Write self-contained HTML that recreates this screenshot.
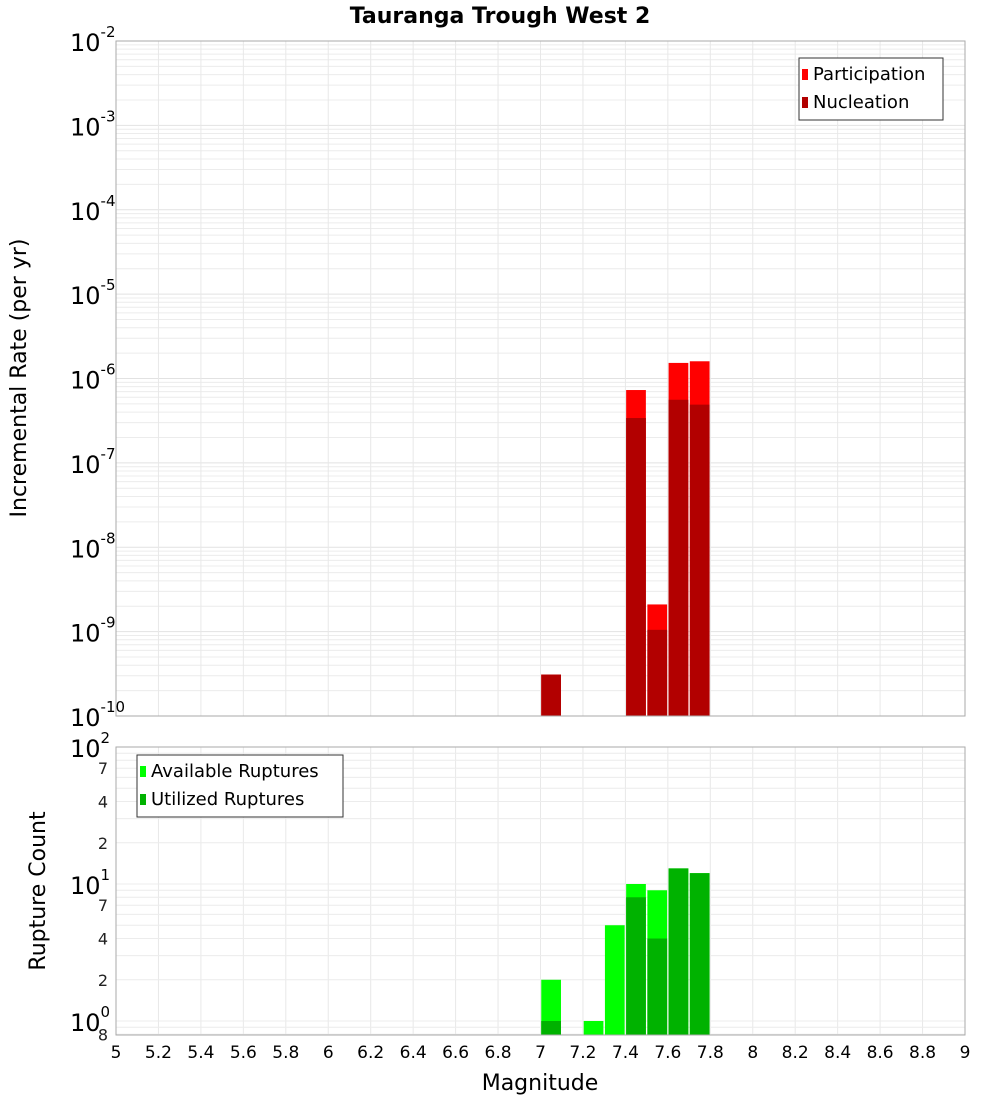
<!DOCTYPE html>
<html><head><meta charset="utf-8"><style>
body{margin:0;background:#fff;}
svg text{font-family:"DejaVu Sans","Liberation Sans",sans-serif;}
</style></head><body>
<svg id="chart" width="1000" height="1100" xmlns="http://www.w3.org/2000/svg">
<text x="500" y="23" text-anchor="middle" font-size="22" font-weight="bold">Tauranga Trough West 2</text>
<g id="topplot"></g>
<g id="botplot"></g>
<text transform="translate(26,378) rotate(-90)" text-anchor="middle" font-size="22">Incremental Rate (per yr)</text>
<text transform="translate(45,891) rotate(-90)" text-anchor="middle" font-size="22">Rupture Count</text>
<text x="540" y="1090" text-anchor="middle" font-size="22">Magnitude</text>
</svg>
<script>
const rateMags=[7.05,7.45,7.55,7.65,7.75];
const participation=[3.1e-10,7.3e-7,2.1e-9,1.53e-6,1.6e-6];
const nucleation=[3.1e-10,3.4e-7,1.05e-9,5.6e-7,4.9e-7];
const countMags=[7.05,7.25,7.35,7.45,7.55,7.65,7.75];
const available=[2,1,5,10,9,13,12];
const utilized=[1,0,0,8,4,13,12];
const xTicks=[5,5.2,5.4,5.6,5.8,6,6.2,6.4,6.6,6.8,7,7.2,7.4,7.6,7.8,8,8.2,8.4,8.6,8.8,9];
const NS="http://www.w3.org/2000/svg";
const PL=116,PR=965;
const xS=m=>PL+(m-5)/4*(PR-PL);
const yT=v=>41+(-2-Math.log10(v))*(716-41)/8;
const yB=v=>747+(2-Math.log10(v))*137;
function mk(p,t,a){const e=document.createElementNS(NS,t);for(const k in a)e.setAttribute(k,a[k]);p.appendChild(e);return e;}
const topG=document.getElementById('topplot'),botG=document.getElementById('botplot'),svgEl=document.getElementById('chart');
for(let d=-10;d<-2;d++)for(let k=1;k<10;k++){const yy=yT(k*Math.pow(10,d));const g=mk(topG,'line',{x1:PL,x2:PR,y1:yy,y2:yy,stroke:k==1?'#e2e2e2':'#ececec','stroke-width':1});

}
for(const t of xTicks){const g=mk(topG,'line',{x1:xS(t),x2:xS(t),y1:41,y2:716,stroke:'#e8e8e8'});


const g2=mk(botG,'line',{x1:xS(t),x2:xS(t),y1:747,y2:1035,stroke:'#e8e8e8'});

}
const bw=(xS(0.1)-xS(0))-1.5;
rateMags.forEach((m,i)=>{
 const b=mk(topG,'rect',{x:xS(m)-bw/2,y:yT(participation[i]),width:bw,height:716-yT(participation[i]),fill:'#ff0000'});
 
 
 const n=mk(topG,'rect',{x:xS(m)-bw/2,y:yT(nucleation[i]),width:bw,height:716-yT(nucleation[i]),fill:'#b20000'});
 
 
});
mk(topG,'rect',{x:PL,y:41,width:PR-PL,height:675,fill:'none',stroke:'#aaa'});
for(let d=-10;d<=-2;d++){const t=mk(svgEl,'text',{x:70,y:yT(Math.pow(10,d))+10,'font-size':24});t.textContent='10';
 
 
 const s=mk(t,'tspan',{dy:-14,'font-size':15});s.textContent=String(d);}
const bmin=Math.pow(10,-14/137);
for(let d=-1;d<2;d++)for(let k=1;k<10;k++){const v=k*Math.pow(10,d);if(v<bmin)continue;const yy=yB(v);const g=mk(botG,'line',{x1:PL,x2:PR,y1:yy,y2:yy,stroke:'#ececec'});

}
countMags.forEach((m,i)=>{
 const b=mk(botG,'rect',{x:xS(m)-bw/2,y:yB(available[i]),width:bw,height:1035-yB(available[i]),fill:'#00ff00'});
 
 
 if(utilized[i]>0){const n=mk(botG,'rect',{x:xS(m)-bw/2,y:yB(utilized[i]),width:bw,height:1035-yB(utilized[i]),fill:'#00b200'});
 
 }
});
mk(botG,'rect',{x:PL,y:747,width:PR-PL,height:288,fill:'none',stroke:'#aaa'});
[[100,'2'],[10,'1'],[1,'0']].forEach(([v,e])=>{const t=mk(svgEl,'text',{x:70,y:yB(v)+10,'font-size':24});t.textContent='10';
 
 
 const s=mk(t,'tspan',{dy:-14,'font-size':15});s.textContent=e;});
[[70,'7'],[40,'4'],[20,'2'],[7,'7'],[4,'4'],[2,'2'],[0.8,'8']].forEach(([v,l])=>{const t=mk(svgEl,'text',{x:108,y:yB(v)+6,'font-size':16,'text-anchor':'end',fill:'#222'});t.textContent=l;
 
 });
for(const tk of xTicks){const t=mk(svgEl,'text',{x:xS(tk),y:1058,'font-size':17,'text-anchor':'middle'});t.textContent=String(tk);
 
 }
function legend(px,py,w,items,name){const g=mk(svgEl,'g',{});
 
 
 mk(g,'rect',{x:px,y:py,width:w,height:items.length*28+6,fill:'#fff',stroke:'#333'});
 items.forEach(([c,l],i)=>{mk(g,'rect',{x:px+3,y:py+11+i*28,width:6,height:11,fill:c});const t=mk(g,'text',{x:px+14,y:py+22+i*28,'font-size':18});t.textContent=l;});}
legend(799,58,144,[['#ff0000','Participation'],['#b20000','Nucleation']],'rate-legend');
legend(137,755,206,[['#00ff00','Available Ruptures'],['#00b200','Utilized Ruptures']],'count-legend');
</script>
</body></html>
